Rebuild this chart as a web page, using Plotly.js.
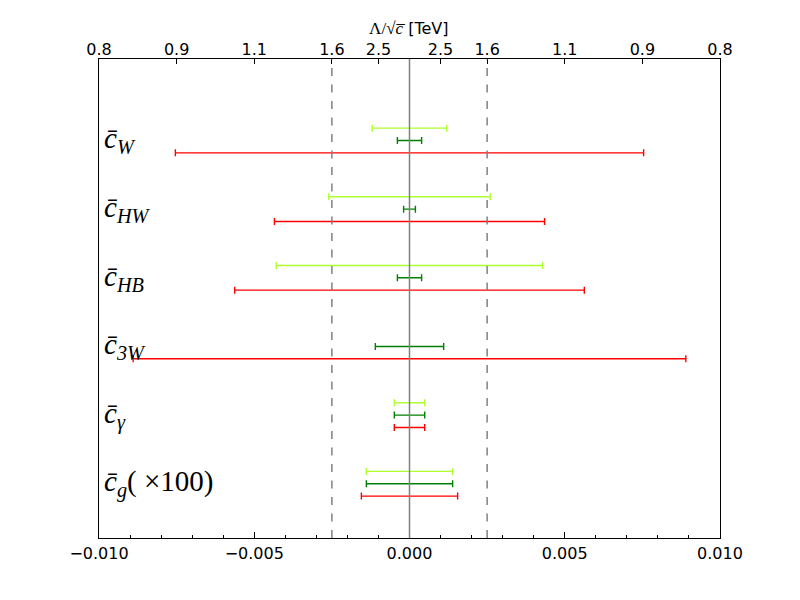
<!DOCTYPE html>
<html>
<head>
<meta charset="utf-8">
<script src="https://cdn.plot.ly/plotly-3.0.1.min.js"></script>
<style>html,body{margin:0;padding:0;background:#fff;}#chart{width:800px;height:600px;}</style>
</head>
<body>
<div id="chart"></div>
<script>
// ---- data ----
var rowLabels = [
  'c\u0304<sub>W</sub>',
  'c\u0304<sub>HW</sub>',
  'c\u0304<sub>HB</sub>',
  'c\u0304<sub>3W</sub>',
  'c\u0304<sub>\u03b3</sub>',
  'c\u0304<sub>g</sub><span style="font-style:normal">( \u00d7100)</span>'
];
var centralValues = [0, 0, 0, 0, 0, 0];
var errLight = [0.0012, 0.0026, 0.00429, null, 0.00049, 0.00139];
var errGreen = [0.00039, 0.00019, 0.00039, 0.0011, 0.00049, 0.00139];
var errRed   = [0.00754, 0.00435, 0.00563, 0.0089, 0.00049, 0.00155];
var refLines = [-0.0025, 0.0025];
var zeroLine = [0];
var topTickVals = [-0.01, -0.0075, -0.005, -0.0025, -0.001, 0.001, 0.0025, 0.005, 0.0075, 0.01];
var topTickText = ['0.8', '0.9', '1.1', '1.6', '2.5', '2.5', '1.6', '1.1', '0.9', '0.8'];
var bottomTickVals = [-0.01, -0.005, 0, 0.005, 0.01];
var bottomTickText = ['\u22120.010', '\u22120.005', '0.000', '0.005', '0.010'];

// ---- build ----
var rowIdx = rowLabels.map(function(_, i){ return i; });
function makeTrace(errs, offset, color) {
  var xs = [], ys = [], es = [];
  errs.forEach(function(e, i){
    if (e === null) return;
    xs.push(centralValues[i]); ys.push(rowIdx[i] + offset); es.push(e);
  });
  return {
    type: 'scatter', mode: 'markers', x: xs, y: ys,
    marker: {size: 1, color: 'rgba(0,0,0,0)'},
    error_x: {type: 'data', array: es, symmetric: true, color: color, thickness: 1.4, width: 3.5},
    hoverinfo: 'skip', showlegend: false, xaxis: 'x', yaxis: 'y'
  };
}
var traces = [
  makeTrace(errLight, -0.18, '#ADFF2F'),
  makeTrace(errGreen, 0, '#008000'),
  makeTrace(errRed, 0.18, '#FF0000'),
  {type: 'scatter', mode: 'markers', x: [0], y: [0], xaxis: 'x2', yaxis: 'y',
   marker: {size: 1, color: 'rgba(0,0,0,0)'}, hoverinfo: 'skip', showlegend: false}
];

var shapes = [];
refLines.forEach(function(v){
  shapes.push({type: 'line', xref: 'x', yref: 'paper', x0: v, x1: v, y0: 0, y1: 1,
    line: {color: '#808080', width: 1.5, dash: '8px,8.5px'}, layer: 'above'});
});
zeroLine.forEach(function(v){
  shapes.push({type: 'line', xref: 'x', yref: 'paper', x0: v, x1: v, y0: 0, y1: 1,
    line: {color: '#808080', width: 1.5}, layer: 'above'});
});

var annotations = rowLabels.map(function(t, i){
  return {xref: 'paper', yref: 'y', x: 0.005, y: rowIdx[i], xanchor: 'left', yanchor: 'middle',
    text: t, showarrow: false, yshift: 0,
    font: {family: 'Liberation Serif, DejaVu Serif, serif', size: 29, color: '#000', style: 'italic'}};
});

var tickFont = {family: 'DejaVu Sans, sans-serif', size: 16, color: '#000'};
var layout = {
  width: 800, height: 600,
  margin: {l: 99, r: 80, t: 59, b: 62, pad: 0},
  paper_bgcolor: '#fff', plot_bgcolor: '#fff',
  showlegend: false,
  title: {
    text: '<span style="font-family:Liberation Serif;font-size:17px">\u039b/\u221a<i>c\u0305</i></span> [TeV]',
    font: {family: 'DejaVu Sans, sans-serif', size: 16, color: '#000'},
    x: 0.511, xanchor: 'center', y: 0.953, yanchor: 'middle'
  },
  xaxis: {
    range: [-0.01, 0.01], tickvals: bottomTickVals, ticktext: bottomTickText,
    ticks: 'inside', ticklen: 6, tickwidth: 1, tickcolor: '#000',
    minor: {dtick: 0.001, tick0: 0, ticks: 'inside', ticklen: 3, tickwidth: 1, tickcolor: '#000'},
    showline: true, linecolor: '#000', linewidth: 1.3, mirror: true,
    showgrid: false, zeroline: false, tickfont: tickFont, fixedrange: true
  },
  xaxis2: {
    overlaying: 'x', side: 'top', anchor: 'y',
    range: [-0.01, 0.01], tickvals: topTickVals, ticktext: topTickText,
    ticks: 'inside', ticklen: 5, tickwidth: 1, tickcolor: '#000',
    showline: false, showgrid: false, zeroline: false, tickfont: tickFont
  },
  yaxis: {
    range: [5.79, -1.187], showticklabels: false, ticks: '',
    showline: true, linecolor: '#000', linewidth: 1.3, mirror: true,
    showgrid: false, zeroline: false
  },
  shapes: shapes,
  annotations: annotations
};
Plotly.newPlot('chart', traces, layout, {staticPlot: true});
</script>
</body>
</html>
